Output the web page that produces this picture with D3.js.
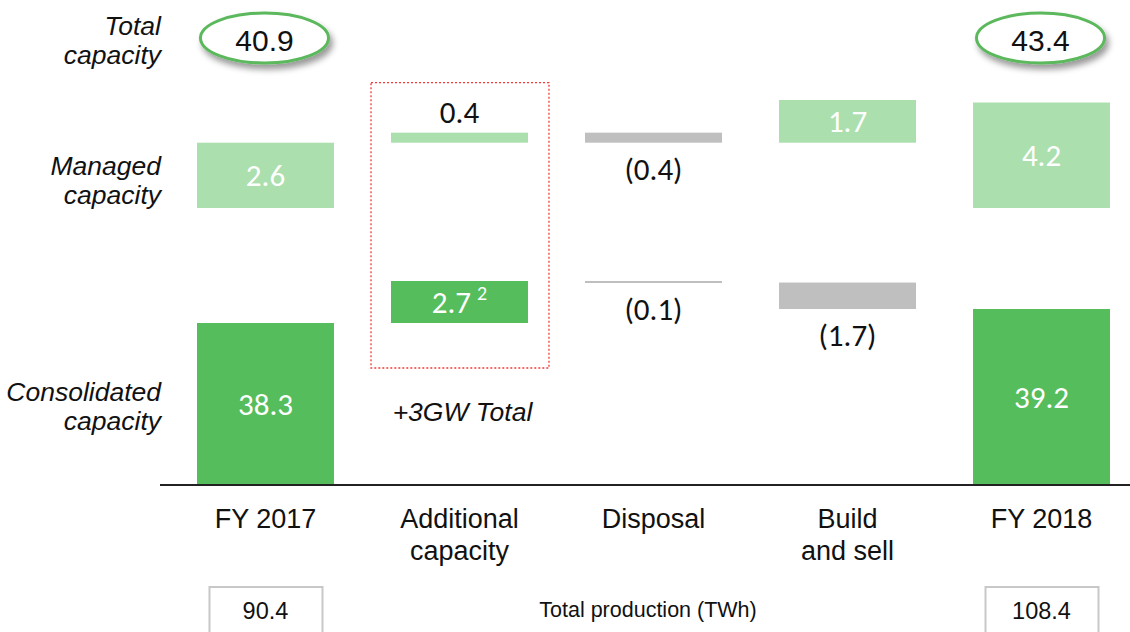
<!DOCTYPE html>
<html>
<head>
<meta charset="utf-8">
<script src="https://cdn.jsdelivr.net/npm/d3@7"></script>
<style>
  html, body { margin: 0; padding: 0; background: #ffffff; }
  svg { display: block; }
</style>
</head>
<body>
<svg id="chart" width="1130" height="632"></svg>
<script>
// ---------------- data ----------------
const categories = ["FY 2017", "Additional capacity", "Disposal", "Build and sell", "FY 2018"];
const categoryLines = [["FY 2017"], ["Additional", "capacity"], ["Disposal"], ["Build", "and sell"], ["FY 2018"]];
const consolidated = [38.3, 2.7, -0.1, -1.7, 39.2];
const managed = [2.6, 0.4, -0.4, 1.7, 4.2];
const totalCapacity = [40.9, null, null, null, 43.4];
const production = [90.4, null, null, null, 108.4];
const rowLabels = [["Total", "capacity"], ["Managed", "capacity"], ["Consolidated", "capacity"]];
const footnoteMarks = [null, "2", null, null, null];
const productionTitle = "Total production (TWh)";
const additionalNote = "+3GW Total";

// ---------------- styles ----------------
const C_DARK = "#55BD5C", C_LIGHT = "#ABDFAD", C_GRAY = "#BFBFBF";
const SANS = "'Liberation Sans', Arial, sans-serif";
const NUM = "Carlito, 'Open Sans', sans-serif";

const svg = d3.select("#chart");
const defs = svg.append("defs");
const f = defs.append("filter").attr("id", "shadow").attr("x", "-20%").attr("y", "-30%").attr("width", "150%").attr("height", "190%");
f.append("feDropShadow").attr("dx", 3).attr("dy", 5).attr("stdDeviation", 3).attr("flood-color", "#000").attr("flood-opacity", 0.4);

// ---------------- scales ----------------
const x = d3.scaleBand().domain(categories).range([197, 1110]).paddingInner(0.294).paddingOuter(0);
const bw = x.bandwidth();
// consolidated axis is broken (schematic): piecewise linear
const yCons = d3.scaleLinear().domain([0, 38.3, 41.0]).range([485, 323, 281]);
const yMan = d3.scaleLinear().domain([0, 4.3]).range([208, 100]);

function segments(values) {
  let run = 0;
  return values.map((v, i) => {
    let s, e;
    if (i === 0 || i === values.length - 1) { s = 0; e = v; run = v; }
    else { s = run; e = run + v; run = e; }
    return { cat: categories[i], v, s, e, i };
  });
}
const consSeg = segments(consolidated);
const manSeg = segments(managed);

function fmt(v) { return v < 0 ? "(" + d3.format(".1f")(-v) + ")" : d3.format(".1f")(v); }

function drawSeries(segs, y, color) {
  const g = svg.append("g");
  g.selectAll("rect").data(segs).join("rect")
    .attr("x", d => x(d.cat))
    .attr("width", bw)
    .attr("y", d => Math.min(y(d.s), y(d.e)))
    .attr("height", d => Math.max(2, Math.abs(y(d.s) - y(d.e))))
    .attr("fill", d => d.v < 0 ? C_GRAY : color);

  segs.forEach(d => {
    const top = Math.min(y(d.s), y(d.e)), bot = Math.max(y(d.s), y(d.e));
    const h = bot - top;
    const cx = x(d.cat) + bw / 2;
    let cy, fill;
    if (d.v < 0) { cy = bot + 26; fill = "#111"; }
    else if (h < 20) { cy = top - 21; fill = "#111"; }
    else { cy = (top + bot) / 2; fill = "#fff"; }
    const t = g.append("text")
      .attr("x", cx).attr("y", cy)
      .attr("text-anchor", "middle").attr("dominant-baseline", "central")
      .attr("font-family", NUM).attr("font-size", 31).attr("fill", fill)
      .text(fmt(d.v));
    const mark = footnoteMarks[d.i];
    if (mark && color === C_DARK) {
      t.append("tspan").attr("font-size", 20).attr("dx", 6).attr("dy", -9).text(mark);
    }
  });
}

// dotted box around additional capacity
const addX = x(categories[1]);
svg.append("rect")
  .attr("x", addX - 20).attr("y", yMan(3.0) - 50)
  .attr("width", bw + 41).attr("height", yCons(38.3) + 45 - (yMan(3.0) - 50))
  .attr("fill", "none").attr("stroke", "#F23B3B").attr("stroke-width", 1.3)
  .attr("stroke-dasharray", "2,2");

drawSeries(consSeg, yCons, C_DARK);
drawSeries(manSeg, yMan, C_LIGHT);

svg.append("text")
  .attr("x", addX + bw / 2 + 3).attr("y", 421)
  .attr("text-anchor", "middle").attr("font-family", SANS).attr("font-style", "italic")
  .attr("font-size", 26.5).attr("fill", "#111").text(additionalNote);

// baseline
svg.append("line").attr("x1", 160).attr("x2", 1130).attr("y1", 485).attr("y2", 485)
  .attr("stroke", "#222").attr("stroke-width", 2);

// total capacity ellipses
const totals = categories.map((c, i) => ({ c, v: totalCapacity[i] })).filter(d => d.v != null);
const eg = svg.append("g");
eg.selectAll("ellipse").data(totals).join("ellipse")
  .attr("cx", d => x(d.c) + bw / 2 - 1).attr("cy", 38).attr("rx", 64).attr("ry", 25)
  .attr("fill", "#fff").attr("stroke", "#5CB85C").attr("stroke-width", 3)
  .attr("filter", "url(#shadow)");
eg.selectAll("text").data(totals).join("text")
  .attr("x", d => x(d.c) + bw / 2 - 1).attr("y", 40)
  .attr("text-anchor", "middle").attr("dominant-baseline", "central")
  .attr("font-family", SANS).attr("font-size", 30).attr("fill", "#111")
  .text(d => d3.format(".1f")(d.v));

// row labels
const rowBaselines = [35, 175, 401];
rowLabels.forEach((lines, r) => {
  const t = svg.append("text").attr("x", 161).attr("y", rowBaselines[r])
    .attr("text-anchor", "end").attr("font-family", SANS).attr("font-style", "italic")
    .attr("font-size", 26.5).attr("fill", "#111");
  lines.forEach((l, k) => t.append("tspan").attr("x", 161).attr("dy", k === 0 ? 0 : 29).text(l));
});

// category labels
categoryLines.forEach((lines, i) => {
  const t = svg.append("text").attr("x", x(categories[i]) + bw / 2).attr("y", 528)
    .attr("text-anchor", "middle").attr("font-family", SANS).attr("font-size", 27).attr("fill", "#111");
  lines.forEach((l, k) => t.append("tspan").attr("x", x(categories[i]) + bw / 2).attr("dy", k === 0 ? 0 : 32).text(l));
});

// production boxes
const prod = categories.map((c, i) => ({ c, v: production[i] })).filter(d => d.v != null);
const pg = svg.append("g");
pg.selectAll("rect").data(prod).join("rect")
  .attr("x", d => x(d.c) + bw / 2 - 56).attr("y", 587).attr("width", 113).attr("height", 60)
  .attr("fill", "#fff").attr("stroke", "#C8C8C8").attr("stroke-width", 2);
pg.selectAll("text").data(prod).join("text")
  .attr("x", d => x(d.c) + bw / 2).attr("y", 619)
  .attr("text-anchor", "middle").attr("font-family", SANS).attr("font-size", 23.5).attr("fill", "#111")
  .text(d => d3.format(".1f")(d.v));
svg.append("text").attr("x", 648).attr("y", 617).attr("text-anchor", "middle")
  .attr("font-family", SANS).attr("font-size", 21.5).attr("fill", "#111").text(productionTitle);
</script>
</body>
</html>
